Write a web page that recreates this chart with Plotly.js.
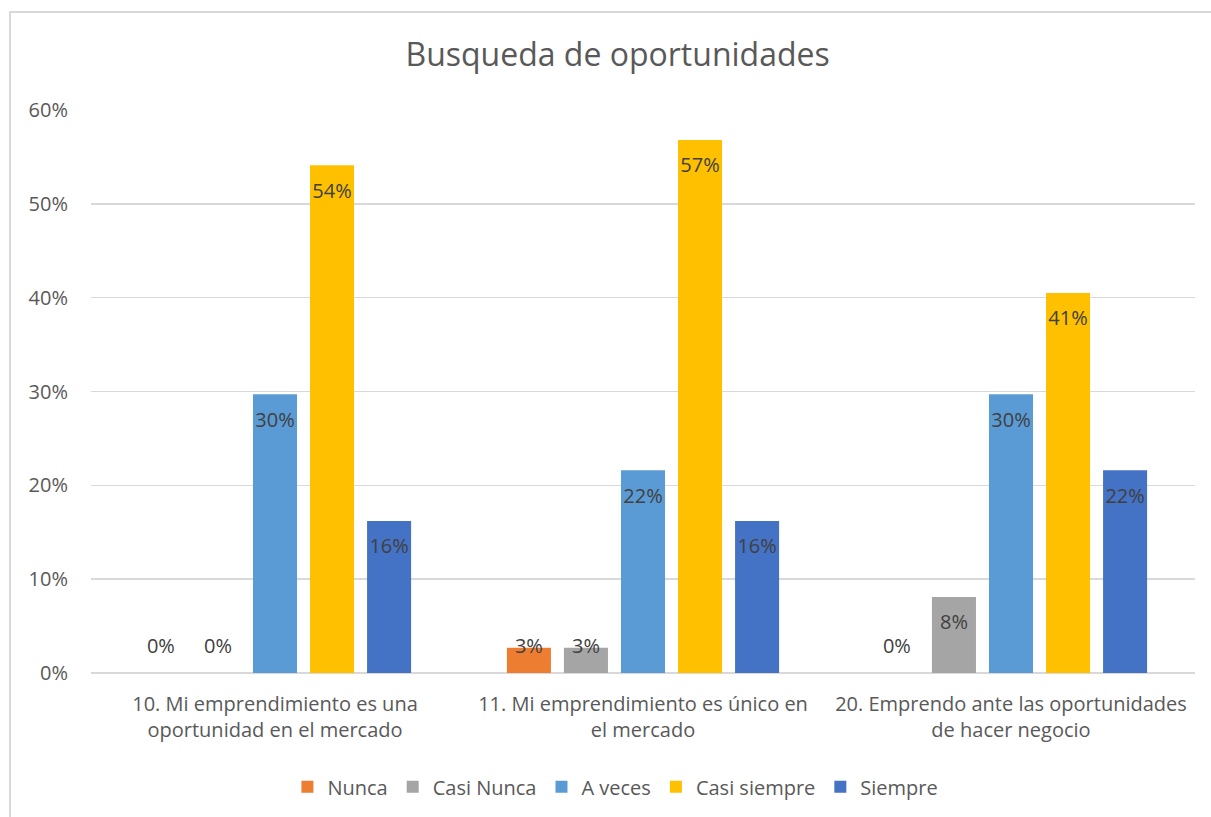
<!DOCTYPE html>
<html>
<head>
<meta charset="utf-8">
<script src="https://cdn.plot.ly/plotly-3.0.1.min.js"></script>
<style>
html,body{margin:0;padding:0;background:#fff;overflow:hidden;}
#chart{width:1211px;height:817px;position:absolute;left:0;top:0;}
#frame{position:absolute;left:9px;top:11px;width:1400px;height:1000px;border:2px solid #d9d9d9;box-sizing:border-box;pointer-events:none;}
</style>
</head>
<body>
<div id="chart"></div>
<div id="frame"></div>
<script>
const categories = ["10. Mi emprendimiento es una<br>oportunidad en el mercado",
                    "11. Mi emprendimiento es único en<br>el mercado",
                    "20. Emprendo ante las oportunidades<br>de hacer negocio"];
const seriesNames = ["Nunca", "Casi Nunca", "A veces", "Casi siempre", "Siempre"];
const nunca       = [0, 0.027, 0];
const casiNunca   = [0, 0.027, 0.081];
const aVeces      = [0.297, 0.216, 0.297];
const casiSiempre = [0.541, 0.568, 0.405];
const siempre     = [0.162, 0.162, 0.216];
const colors = ["#ED7D31", "#A5A5A5", "#5B9BD5", "#FFC000", "#4472C4"];

const values = [nunca, casiNunca, aVeces, casiSiempre, siempre];
const xpos = categories.map((c, i) => i);
const bargap = 0.225, bargroupgap = 0.228;
const slot = (1 - bargap) / seriesNames.length;
const FONT = "Open Sans, sans-serif";

const traces = [];
values.forEach((v, s) => {
  traces.push({
    type: "bar", name: seriesNames[s], x: xpos, y: v,
    marker: {color: colors[s]}, hoverinfo: "skip"
  });
});
values.forEach((v, s) => {
  traces.push({
    type: "scatter", mode: "text", showlegend: false, hoverinfo: "skip",
    x: xpos.map(i => i + (s - 2) * slot),
    y: v.map(val => Math.max(val - 0.029, 0.027)),
    text: v.map(val => Math.round(val * 100) + "%"),
    textposition: "middle center",
    textfont: {family: FONT, size: 20, color: "#404040"},
    cliponaxis: false
  });
});

const layout = {
  width: 1211, height: 817,
  margin: {l: 91, r: 16, t: 110, b: 144, autoexpand: false},
  paper_bgcolor: "#fff", plot_bgcolor: "#fff",
  font: {family: FONT, color: "#595959", size: 20},
  title: {text: "Busqueda de oportunidades", x: 0.51, xanchor: "center", y: 0.933, yanchor: "middle",
          font: {size: 32, color: "#595959", family: FONT}},
  barmode: "group", bargap: bargap, bargroupgap: bargroupgap,
  xaxis: {range: [-0.5, 2.5], tickvals: xpos, ticktext: categories, showgrid: false, zeroline: false,
          showline: false, ticks: "", ticklabelstandoff: 17, automargin: false,
          tickfont: {size: 20, color: "#595959"}, fixedrange: true},
  yaxis: {range: [0, 0.6], dtick: 0.1, tickformat: ".0%", gridcolor: "#d9d9d9", gridwidth: 1.5,
          zeroline: true, zerolinecolor: "#d9d9d9", zerolinewidth: 2, showline: false, ticks: "",
          ticklabelstandoff: 22, automargin: false, tickfont: {size: 20, color: "#595959"}, fixedrange: true},
  legend: {orientation: "h", x: 0.475, xanchor: "center", yref: "container", y: 0.037, yanchor: "middle",
           font: {size: 20, color: "#595959"}, itemwidth: 30, traceorder: "normal"},
  showlegend: true
};

Plotly.newPlot("chart", traces, layout, {displayModeBar: false, staticPlot: true});
</script>
</body>
</html>
